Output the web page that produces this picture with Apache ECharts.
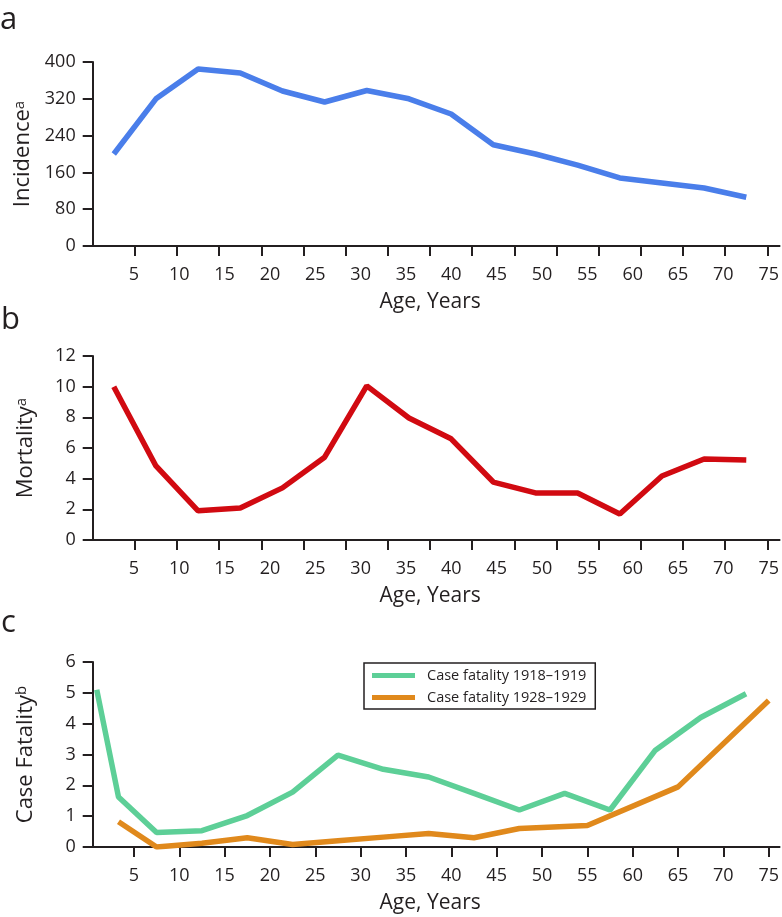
<!DOCTYPE html>
<html>
<head>
    <meta charset="UTF-8">
    <title>Incidence, mortality and case fatality by age</title>
    <script src="https://cdn.jsdelivr.net/npm/echarts@6.0.0/dist/echarts.min.js"></script>
    <style>
        body { margin: 0; padding: 0; background: #fff; }
        #chart { width: 782px; height: 917px; }
    </style>
</head>
<body>
<div id="chart"></div>
<script>
// 数据：年龄组中点（面板 a、b）
const ageMid = [2.5, 7.5, 12.5, 17.5, 22.5, 27.5, 32.5, 37.5, 42.5, 47.5, 52.5, 57.5, 62.5, 67.5, 72.5, 77.5];
const incidence = [200, 320, 385, 376, 337, 313, 338, 320, 287, 220, 200, 176, 148, 137, 126, 106];
const mortality = [10.0, 4.83, 1.9, 2.09, 3.4, 5.4, 10.05, 7.96, 6.6, 3.78, 3.07, 3.07, 1.7, 4.17, 5.28, 5.22];

// 面板 c
const ageCf1918 = [0.9, 3.3, 7.5, 12.5, 17.5, 22.5, 27.5, 32.5, 37.5, 42.5, 47.5, 52.5, 57.5, 62.5, 67.5, 72.5];
const cf1918 = [5.1, 1.62, 0.47, 0.53, 1.02, 1.78, 2.98, 2.52, 2.27, 1.74, 1.2, 1.74, 1.2, 3.14, 4.2, 4.97];
const ageCf1928 = [3.3, 7.5, 12.5, 17.5, 22.5, 27.5, 32.5, 37.5, 42.5, 47.5, 55, 65, 75];
const cf1928 = [0.82, 0, 0.12, 0.3, 0.08, 0.2, 0.32, 0.44, 0.3, 0.6, 0.7, 1.95, 4.75];

// 刻度
const tickAges = [5, 10, 15, 20, 25, 30, 35, 40, 45, 50, 55, 60, 65, 70, 75, 80];
const labelAges = [5, 10, 15, 20, 25, 30, 35, 40, 45, 50, 55, 60, 65, 70, 75];

const ink = '#231f20';
const font = 'Open Sans';

function pairs(xs, ys) {
    return xs.map((x, i) => [x, ys[i]]);
}

const xName = {
    name: 'Age, Years', nameLocation: 'middle', nameGap: 46,
    nameTextStyle: { fontFamily: font, fontSize: 21, color: ink, padding: [0, 12, 0, 0] }
};

// 主轴：刻度线 + 数据
function mainX(grid) {
    return Object.assign({
        type: 'value', gridIndex: grid, position: 'bottom',
        min: 0, max: 81.45,
        axisLine: { show: true, onZero: false, lineStyle: { color: ink, width: 2 } },
        axisTick: { show: true, length: 10, lineStyle: { color: ink, width: 2 }, customValues: tickAges },
        axisLabel: { show: false },
        splitLine: { show: false }
    }, xName);
}

// 标签轴（原图标签与刻度不对齐）
function labelX(grid, showLine) {
    return {
        type: 'value', gridIndex: grid, position: 'bottom',
        min: 0.455, max: 76.2,
        axisLine: { show: showLine, onZero: false, lineStyle: { color: ink, width: 2 } },
        axisTick: { show: showLine, length: 10, lineStyle: { color: ink, width: 2 }, customValues: labelAges },
        axisLabel: { show: true, customValues: labelAges, margin: 20, fontFamily: font, fontSize: 18, color: ink },
        splitLine: { show: false }
    };
}

function yAx(grid, max, interval, title, sup) {
    return {
        type: 'value', gridIndex: grid, min: 0, max: max, interval: interval,
        name: title + '{s|' + sup + '}', nameLocation: 'middle', nameGap: 56,
        nameTextStyle: {
            fontFamily: font, fontSize: 22, color: ink,
            rich: { s: { fontFamily: font, fontSize: 15, color: ink, verticalAlign: 'top' } }
        },
        axisLine: { show: true, lineStyle: { color: ink, width: 2 } },
        axisTick: { show: true, length: 10, lineStyle: { color: ink, width: 2 } },
        axisLabel: { margin: 17, fontFamily: font, fontSize: 18, color: ink },
        splitLine: { show: false }
    };
}

const xc = Object.assign(labelX(2, true), xName);

const chart = echarts.init(document.getElementById('chart'));
chart.setOption({
    animation: false,
    textStyle: { fontFamily: font },
    grid: [
        { left: 92.7, right: 2, top: 62, height: 184 },
        { left: 92.7, right: 2, top: 356, height: 184 },
        { left: 92.7, right: 2, top: 662, height: 185 }
    ],
    xAxis: [mainX(0), labelX(0, false), mainX(1), labelX(1, false), xc],
    yAxis: [
        yAx(0, 400, 80, 'Incidence', 'a'),
        yAx(1, 12, 2, 'Mortality', 'a'),
        yAx(2, 6, 1, 'Case Fatality', 'b')
    ],
    legend: {
        left: 364, top: 663, orient: 'vertical',
        padding: [5, 9, 4, 8], itemGap: 7,
        itemWidth: 43, itemHeight: 5, icon: 'rect',
        borderColor: ink, borderWidth: 1.5,
        textStyle: { fontFamily: font, fontSize: 14.5, color: ink, padding: [0, 0, 0, 7] },
        data: ['Case fatality 1918–1919', 'Case fatality 1928–1929']
    },
    graphic: [
        { type: 'text', left: 0, top: 5, style: { text: 'a', font: '31px "Open Sans"', fill: ink } },
        { type: 'text', left: 1, top: 305, style: { text: 'b', font: '31px "Open Sans"', fill: ink } },
        { type: 'text', left: 1, top: 608, style: { text: 'c', font: '31px "Open Sans"', fill: ink } }
    ],
    series: [
        {
            type: 'line', xAxisIndex: 0, yAxisIndex: 0, data: pairs(ageMid, incidence),
            showSymbol: false, lineStyle: { color: '#4a7eea', width: 5.5 }, itemStyle: { color: '#4a7eea' }
        },
        {
            type: 'line', xAxisIndex: 2, yAxisIndex: 1, data: pairs(ageMid, mortality),
            showSymbol: false, lineStyle: { color: '#d10a11', width: 5.5 }, itemStyle: { color: '#d10a11' }
        },
        {
            name: 'Case fatality 1918–1919',
            type: 'line', xAxisIndex: 4, yAxisIndex: 2, data: pairs(ageCf1918, cf1918),
            showSymbol: false, lineStyle: { color: '#5dcf97', width: 5.5 }, itemStyle: { color: '#5dcf97' }
        },
        {
            name: 'Case fatality 1928–1929',
            type: 'line', xAxisIndex: 4, yAxisIndex: 2, data: pairs(ageCf1928, cf1928),
            showSymbol: false, lineStyle: { color: '#e0891c', width: 5.5 }, itemStyle: { color: '#e0891c' }
        }
    ]
});
</script>
</body>
</html>
